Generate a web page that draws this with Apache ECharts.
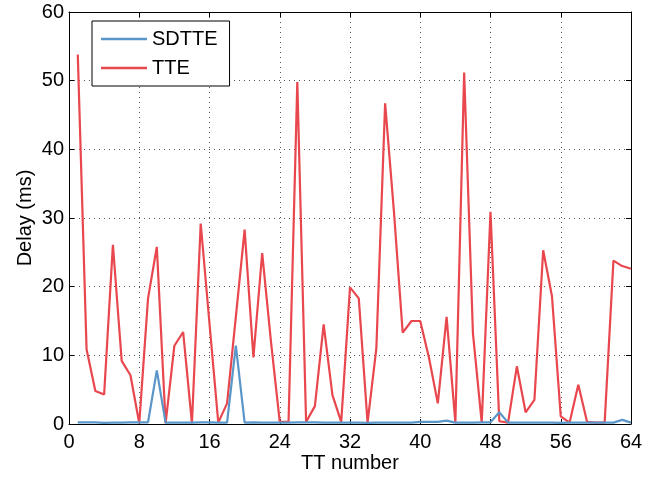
<!DOCTYPE html>
<html>
<head>
<meta charset="utf-8">
<script src="https://cdn.jsdelivr.net/npm/echarts@6/dist/echarts.min.js"></script>
<style>
  html, body { margin: 0; padding: 0; background: #fff; }
  #chart { width: 659px; height: 479px; }
</style>
</head>
<body>
<div id="chart"></div>
<script>
// TT index of each measurement
const ttNumber = [
  1, 2, 3, 4, 5, 6, 7, 8, 9, 10, 11, 12, 13, 14, 15, 16,
  17, 18, 19, 20, 21, 22, 23, 24, 25, 26, 27, 28, 29, 30, 31, 32,
  33, 34, 35, 36, 37, 38, 39, 40, 41, 42, 43, 44, 45, 46, 47, 48,
  49, 50, 51, 52, 53, 54, 55, 56, 57, 58, 59, 60, 61, 62, 63, 64
];

// Delay (ms) for SDTTE
const sdtteDelay = [
  0.25, 0.25, 0.25, 0.15, 0.2, 0.2, 0.25, 0.25, 0.25, 7.8, 0.2, 0.2, 0.2, 0.2, 0.25, 0.25,
  0.2, 0.2, 11.4, 0.2, 0.25, 0.2, 0.2, 0.2, 0.2, 0.25, 0.25, 0.25, 0.2, 0.2, 0.2, 0.2,
  0.2, 0.15, 0.2, 0.2, 0.2, 0.2, 0.2, 0.3, 0.3, 0.3, 0.5, 0.2, 0.2, 0.2, 0.25, 0.25,
  1.7, 0.2, 0.2, 0.2, 0.2, 0.2, 0.2, 0.15, 0.2, 0.2, 0.2, 0.2, 0.2, 0.2, 0.6, 0.2
];

// Delay (ms) for TTE
const tteDelay = [
  53.8, 10.9, 4.8, 4.3, 26.1, 9.2, 7.1, 0.1, 18.3, 25.8, 0.1, 11.4, 13.4, 0.1, 29.2, 14.6,
  0.2, 3.0, 15.6, 28.3, 9.7, 24.9, 12.0, 0.3, 0.3, 49.8, 0.3, 2.6, 14.5, 4.2, 0.3, 19.9,
  18.3, 0.2, 11.0, 46.7, 31.0, 13.3, 15.0, 15.0, 9.6, 3.0, 15.6, 0.2, 51.2, 13.2, 0.2, 30.9,
  0.4, 0.2, 8.4, 1.7, 3.5, 25.3, 18.6, 1.1, 0.2, 5.7, 0.3, 0.2, 0.2, 23.8, 23.0, 22.6
];

// Axis ticks
const xTicks = [0, 8, 16, 24, 32, 40, 48, 56, 64];
const yTicks = [0, 10, 20, 30, 40, 50, 60];

const FONT = '"Liberation Sans", Arial, Helvetica, sans-serif';
const BLUE = '#5a96c8';
const RED = '#e8474e';

const pairs = (xs, ys) => xs.map((x, i) => [x, ys[i]]);

const gridLine = { show: true, lineStyle: { color: '#555', width: 1, type: [1, 4] } };
const axisLine = { show: true, onZero: false, lineStyle: { color: '#000', width: 1 } };
const tick = { show: true, inside: true, length: 5, lineStyle: { color: '#000' } };

const chart = echarts.init(document.getElementById('chart'), null, { renderer: 'canvas' });

chart.setOption({
  animation: false,
  backgroundColor: '#fff',
  textStyle: { fontFamily: FONT },
  grid: { left: 69, right: 28, top: 12, bottom: 55, containLabel: false, outerBoundsMode: 'none' },
  legend: {
    orient: 'vertical',
    left: 92,
    top: 21,
    padding: [8, 12, 8, 9],
    itemGap: 9,
    itemWidth: 46,
    itemHeight: 2.5,
    icon: 'rect',
    borderColor: '#000',
    borderWidth: 1,
    borderRadius: 0,
    backgroundColor: '#fff',
    textStyle: { fontFamily: FONT, fontSize: 20, color: '#000', padding: [0, 0, 0, 0] },
    data: ['SDTTE', 'TTE']
  },
  xAxis: [
    {
      type: 'value',
      min: xTicks[0],
      max: xTicks[xTicks.length - 1],
      interval: xTicks[1] - xTicks[0],
      position: 'bottom',
      name: 'TT number',
      nameLocation: 'middle',
      nameGap: 29,
      nameMoveOverlap: false,
      nameTextStyle: { fontFamily: FONT, fontSize: 20, color: '#000' },
      axisLine: axisLine,
      axisTick: tick,
      axisLabel: { color: '#000', fontFamily: FONT, fontSize: 20, margin: 8 },
      splitLine: gridLine
    },
    {
      type: 'value',
      min: xTicks[0],
      max: xTicks[xTicks.length - 1],
      interval: xTicks[1] - xTicks[0],
      position: 'top',
      axisLine: axisLine,
      axisTick: tick,
      axisLabel: { show: false },
      splitLine: { show: false }
    }
  ],
  yAxis: [
    {
      type: 'value',
      min: yTicks[0],
      max: yTicks[yTicks.length - 1],
      interval: yTicks[1] - yTicks[0],
      position: 'left',
      name: 'Delay (ms)',
      nameLocation: 'middle',
      nameGap: 34,
      nameMoveOverlap: false,
      nameTextStyle: { fontFamily: FONT, fontSize: 20, color: '#000' },
      axisLine: axisLine,
      axisTick: tick,
      axisLabel: { color: '#000', fontFamily: FONT, fontSize: 20, margin: 5 },
      splitLine: gridLine
    },
    {
      type: 'value',
      min: yTicks[0],
      max: yTicks[yTicks.length - 1],
      interval: yTicks[1] - yTicks[0],
      position: 'right',
      axisLine: axisLine,
      axisTick: tick,
      axisLabel: { show: false },
      splitLine: { show: false }
    }
  ],
  series: [
    {
      name: 'SDTTE',
      type: 'line',
      xAxisIndex: 0,
      yAxisIndex: 0,
      data: pairs(ttNumber, sdtteDelay),
      showSymbol: false,
      symbol: 'none',
      lineStyle: { color: BLUE, width: 2.2 },
      itemStyle: { color: BLUE },
      z: 3
    },
    {
      name: 'TTE',
      type: 'line',
      xAxisIndex: 0,
      yAxisIndex: 0,
      data: pairs(ttNumber, tteDelay),
      showSymbol: false,
      symbol: 'none',
      lineStyle: { color: RED, width: 2.2 },
      itemStyle: { color: RED },
      z: 2
    }
  ]
});
</script>
</body>
</html>
